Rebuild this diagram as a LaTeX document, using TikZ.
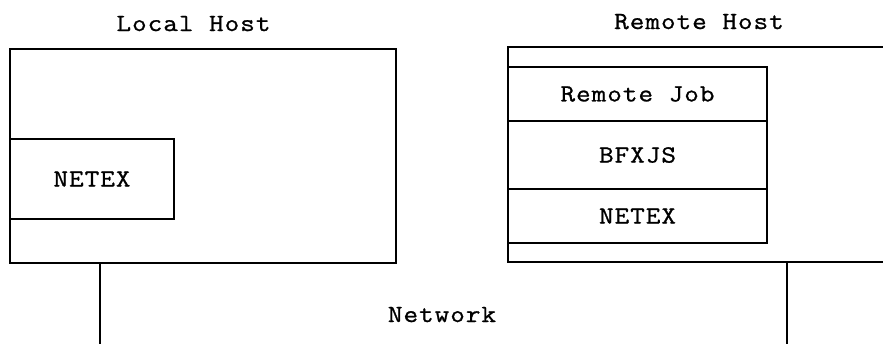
\documentclass[tikz,border=0pt]{standalone}
\usepackage{fontspec}
\newfontfamily\termfont{Latin Modern Mono}[FakeStretch=1.15, FakeBold=1, LetterSpace=4]
\usetikzlibrary{positioning}

\begin{document}
\begin{tikzpicture}[x=0.75pt,y=0.75pt,yscale=-1,xscale=1,
  box/.style={draw, line width=1pt, inner sep=0pt, outer sep=0pt},
  txt/.style={font={\termfont\fontsize{18.5pt}{22pt}\selectfont}, inner sep=0.75pt},
  wire/.style={line width=1pt}]
\useasboundingbox (0,0) rectangle (883,344);

%Local host frame
\node [box, minimum width=289.5pt, minimum height=160.5pt, anchor=north west] (local) at (10,49) {};
\node [box, txt, minimum width=123pt, minimum height=60pt, anchor=north west] (lnetex) at (10,139) {NETEX};

%Remote host frame, runs off the right edge
\node [box, minimum width=294pt, minimum height=161.25pt, anchor=north west] (remote) at (508,47) {};
%Remote stack
\node [box, txt, minimum width=194.25pt, minimum height=40.5pt, anchor=north west] (rjob) at (508,67) {Remote Job};
\node [box, txt, minimum width=194.25pt, minimum height=51pt, below=0pt of rjob] (bfxjs) {BFXJS};
\node [box, txt, minimum width=194.25pt, minimum height=40.5pt, below=0pt of bfxjs] (rnetex) {NETEX};

% Text Node
\node [txt, anchor=base] (lhost) at (193.5,31) {Local Host};
% Text Node
\node [txt, anchor=base] (rhost) at (699,29) {Remote Host};
% Text Node
\node [txt, anchor=base] (net) at (442,322) {Network};

%Network drops
\coordinate (lend) at (100,344);
\coordinate (rend) at (787,344);
\draw [wire] (local.south west -| lend) -- (lend);
\draw [wire] (remote.south west -| rend) -- (rend);

\end{tikzpicture}
\end{document}
